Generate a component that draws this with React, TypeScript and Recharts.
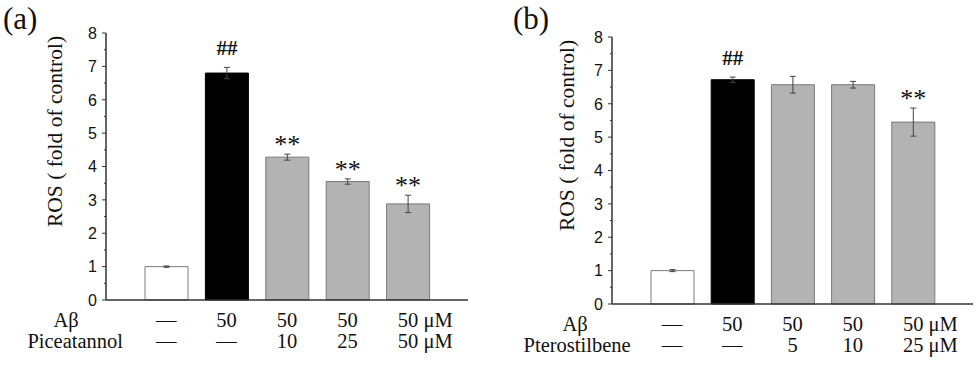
import React from 'react';
import { BarChart, Bar, XAxis, YAxis, ErrorBar, Cell, LabelList } from 'recharts';

const categories = ['ctrl', 'abeta', 'd1', 'd2', 'd3'];

const leftValues = [1.0, 6.8, 4.28, 3.55, 2.88];
const leftErrors = [0.02, 0.17, 0.09, 0.08, 0.26];
const leftMarks = ['', '##', '**', '**', '**'];
const leftAbeta = ['—', '50', '50', '50', '50 μM'];
const leftDrug = ['—', '—', '10', '25', '50 μM'];
const leftDrugName = 'Piceatannol';

const rightValues = [1.0, 6.72, 6.57, 6.57, 5.45];
const rightErrors = [0.03, 0.08, 0.25, 0.1, 0.42];
const rightMarks = ['', '##', '', '', '**'];
const rightAbeta = ['—', '50', '50', '50', '50 μM'];
const rightDrug = ['—', '—', '5', '10', '25 μM'];
const rightDrugName = 'Pterostilbene';

const yTicks = [0, 0.5, 1, 1.5, 2, 2.5, 3, 3.5, 4, 4.5, 5, 5.5, 6, 6.5, 7, 7.5, 8];
const yLabel = 'ROS ( fold of control)';
const rowLabel = 'Aβ';

const barFills = ['#ffffff', '#000000', '#b3b3b3', '#b3b3b3', '#b3b3b3'];
const barStrokes = ['#7a7a7a', '#000000', '#7a7a7a', '#7a7a7a', '#7a7a7a'];

const SERIF = "'Liberation Serif', 'Times New Roman', serif";
const SANS = "'Liberation Sans', Arial, sans-serif";

const serifStyle = (size: number, weight: any = 'normal') => ({ fontFamily: SERIF, fontSize: size, fontWeight: weight });

function buildData(values: number[], errors: number[], marks: string[]) {
  return categories.map((c, i) => ({ name: c, value: values[i], err: errors[i], mark: marks[i] }));
}

const YTick = (props: any) => {
  const { x, y, payload } = props;
  const v = payload.value;
  const major = Math.abs(v - Math.round(v)) < 1e-6;
  return (
    <g>
      <line x1={x - (major ? 4 : 2)} x2={x} y1={y} y2={y} stroke="#333" strokeWidth={1} />
      {major && (
        <text x={x - 9} y={y} dy="0.36em" textAnchor="end" style={{ fontFamily: SANS, fontSize: 16 }} fill="#111">
          {v}
        </text>
      )}
    </g>
  );
};

function makeXTick(abeta: string[], drug: string[], drugName: string, hdrA: number, hdrB: number) {
  return (props: any) => {
    const { x, y, index } = props;
    const renderCell = (s: string, yy: number, key: string) => {
      const withUnit = s.endsWith('μM');
      return (
        <text
          key={key}
          x={withUnit ? x - 10 : x}
          y={yy}
          textAnchor={withUnit ? 'start' : 'middle'}
          style={serifStyle(20.5)}
          fill="#111"
        >
          {s}
        </text>
      );
    };
    return (
      <g>
        {index === 0 && (
          <>
            <text x={x - hdrA} y={y + 27} textAnchor="middle" style={serifStyle(20.5)} fill="#111">
              {rowLabel}
            </text>
            <text x={x - hdrB} y={y + 48} textAnchor="middle" style={serifStyle(20.5)} fill="#111">
              {drugName}
            </text>
          </>
        )}
        {renderCell(abeta[index], y + 27, 'a')}
        {renderCell(drug[index], y + 48, 'b')}
      </g>
    );
  };
}

function makeMark(errors: number[], values: number[]) {
  return (props: any) => {
    const { x, y, width, height, value, index } = props;
    if (!value) return null;
    const errPx = (errors[index] * height) / values[index];
    const isHash = value === '##';
    const ty = y - errPx - (isHash ? 12 : 1);
    return (
      <text
        x={x + width / 2}
        y={ty}
        textAnchor="middle"
        style={serifStyle(isHash ? 21 : 26, isHash ? 'bold' : 'normal')}
        fill="#111"
      >
        {value}
      </text>
    );
  };
}

function makeYLabel(dx: number) {
  return (props: any) => {
    const vb = props.viewBox;
    const cx = vb.x + dx;
    const cy = vb.y + vb.height / 2 - 35;
    return (
      <text
        x={cx}
        y={cy}
        transform={`rotate(-90, ${cx}, ${cy})`}
        textAnchor="middle"
        dominantBaseline="central"
        style={serifStyle(21.5)}
        fill="#111"
      >
        {yLabel}
      </text>
    );
  };
}

type PanelProps = {
  values: number[];
  errors: number[];
  marks: string[];
  abeta: string[];
  drug: string[];
  drugName: string;
  width: number;
  axisWidth: number;
  top: number;
  bottom: number;
  right: number;
  labelX: number;
  hdrA: number;
  hdrB: number;
};

const Panel = (p: PanelProps) => {
  const data = buildData(p.values, p.errors, p.marks);
  return (
    <BarChart
      width={p.width}
      height={370}
      data={data}
      margin={{ top: p.top, bottom: 0, left: 0, right: p.right }}
      barSize={43}
    >
      <XAxis
        dataKey="name"
        type="category"
        padding={{ left: 30, right: 30 }}
        height={p.bottom}
        tickLine={false}
        tickSize={0}
        tickMargin={0}
        interval={0}
        axisLine={{ stroke: '#333', strokeWidth: 1.5 }}
        tick={makeXTick(p.abeta, p.drug, p.drugName, p.hdrA, p.hdrB)}
      />
      <YAxis
        type="number"
        domain={[0, 8]}
        ticks={yTicks}
        interval={0}
        width={p.axisWidth}
        tickLine={false}
        tickSize={0}
        tickMargin={0}
        axisLine={{ stroke: '#333', strokeWidth: 1.5 }}
        tick={YTick}
        label={{ value: yLabel, content: makeYLabel(p.labelX) }}
      />
      <Bar dataKey="value" isAnimationActive={false} strokeWidth={1}>
        {data.map((d, i) => (
          <Cell key={d.name} fill={barFills[i]} stroke={barStrokes[i]} />
        ))}
        <ErrorBar dataKey="err" width={3} stroke="#444" strokeWidth={1} direction="y" />
        <LabelList dataKey="mark" content={makeMark(p.errors, p.values)} />
      </Bar>
    </BarChart>
  );
};

const letterStyle: React.CSSProperties = {
  position: 'absolute',
  top: 3,
  fontFamily: SERIF,
  fontSize: 31,
  lineHeight: '31px',
  color: '#111',
};

export default function App() {
  return (
    <div style={{ position: 'absolute', left: 0, top: 0, width: 978, height: 370, background: '#fff' }}>
      <div style={{ position: 'absolute', left: 0, top: 0 }}>
        <Panel
          values={leftValues}
          errors={leftErrors}
          marks={leftMarks}
          abeta={leftAbeta}
          drug={leftDrug}
          drugName={leftDrugName}
          width={489}
          axisWidth={106}
          top={33}
          bottom={70}
          right={21}
          labelX={55}
          hdrA={100}
          hdrB={91}
        />
      </div>
      <div style={{ position: 'absolute', left: 490, top: 0 }}>
        <Panel
          values={rightValues}
          errors={rightErrors}
          marks={rightMarks}
          abeta={rightAbeta}
          drug={rightDrug}
          drugName={rightDrugName}
          width={488}
          axisWidth={122}
          top={37}
          bottom={66}
          right={5}
          labelX={77}
          hdrA={97}
          hdrB={95}
        />
      </div>
      <div style={{ ...letterStyle, left: 3 }}>(a)</div>
      <div style={{ ...letterStyle, left: 513 }}>(b)</div>
    </div>
  );
}
